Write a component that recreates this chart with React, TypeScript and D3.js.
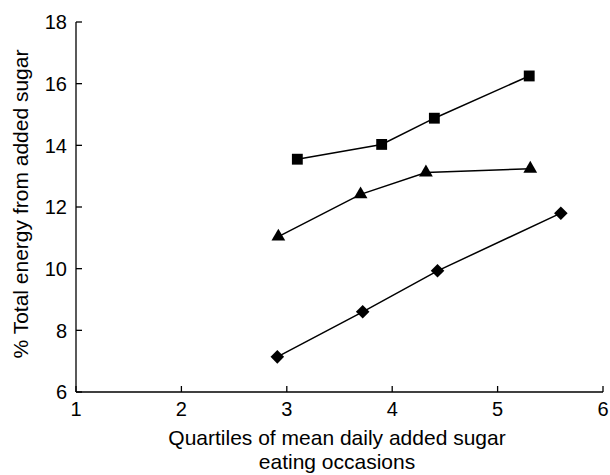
import React from 'react';
import * as d3 from 'd3';

// quartile mean eating occasions (x) and % energy from added sugar (y)
const squareX = [3.1, 3.9, 4.4, 5.3];
const squareY = [13.55, 14.03, 14.88, 16.25];
const triangleX = [2.92, 3.7, 4.32, 5.31];
const triangleY = [11.04, 12.41, 13.12, 13.24];
const diamondX = [2.91, 3.72, 4.43, 5.6];
const diamondY = [7.14, 8.6, 9.93, 11.8];

const xTicks = [1, 2, 3, 4, 5, 6];
const yTicks = [6, 8, 10, 12, 14, 16, 18];

const width = 610;
const height = 475;
const left = 76;
const right = 603;
const top = 22;
const bottom = 392;
const font = 'Liberation Sans, Arial, sans-serif';

const App: React.FC = () => {
  const x = d3.scaleLinear().domain([1, 6]).range([left, right]);
  const y = d3.scaleLinear().domain([6, 18]).range([bottom, top]);

  const line = d3.line<[number, number]>()
    .x(d => x(d[0]))
    .y(d => y(d[1]));

  const series = [
    { xs: squareX, ys: squareY, shape: d3.symbol().type(d3.symbolSquare).size(118)() },
    { xs: triangleX, ys: triangleY, shape: d3.symbol().type(d3.symbolTriangle).size(82)() },
    { xs: diamondX, ys: diamondY, shape: d3.symbol().type(d3.symbolSquare).size(92)() },
  ];

  return (
    <svg width={width} height={height} style={{ position: 'absolute', left: 0, top: 0, background: '#fff' }}>
      {/* axes */}
      <line x1={left} x2={left} y1={top} y2={bottom} stroke="#000" strokeWidth={1.3} />
      <line x1={left} x2={right} y1={bottom} y2={bottom} stroke="#000" strokeWidth={1.3} />
      {yTicks.map(t => (
        <g key={'y' + t}>
          <line x1={left} x2={left + 6} y1={y(t)} y2={y(t)} stroke="#000" strokeWidth={1.3} />
          <text x={left - 9} y={y(t)} dy="0.36em" textAnchor="end" fontFamily={font} fontSize={20}>{t}</text>
        </g>
      ))}
      {xTicks.map(t => (
        <g key={'x' + t}>
          <line x1={x(t)} x2={x(t)} y1={bottom} y2={bottom - 6} stroke="#000" strokeWidth={1.3} />
          <text x={x(t)} y={bottom + 24} textAnchor="middle" fontFamily={font} fontSize={20}>{t}</text>
        </g>
      ))}
      <text x={337} y={445} textAnchor="middle" fontFamily={font} fontSize={21}>
        Quartiles of mean daily added sugar
      </text>
      <text x={337} y={469} textAnchor="middle" fontFamily={font} fontSize={21}>
        eating occasions
      </text>
      <text transform={`translate(28,${(top + bottom) / 2 - 3}) rotate(-90)`} textAnchor="middle" fontFamily={font} fontSize={21}>
        % Total energy from added sugar
      </text>

      {/* series */}
      {series.map((s, i) => {
        const pts = s.xs.map((v, j) => [v, s.ys[j]] as [number, number]);
        return (
          <g key={i}>
            <path d={line(pts) || ''} fill="none" stroke="#000" strokeWidth={1.5} />
            {pts.map((p, j) => (
              <path
                key={j}
                d={s.shape || ''}
                transform={`translate(${x(p[0])},${y(p[1])})${i === 2 ? ' rotate(45)' : ''}`}
                fill="#000"
              />
            ))}
          </g>
        );
      })}
    </svg>
  );
};

export default App;
